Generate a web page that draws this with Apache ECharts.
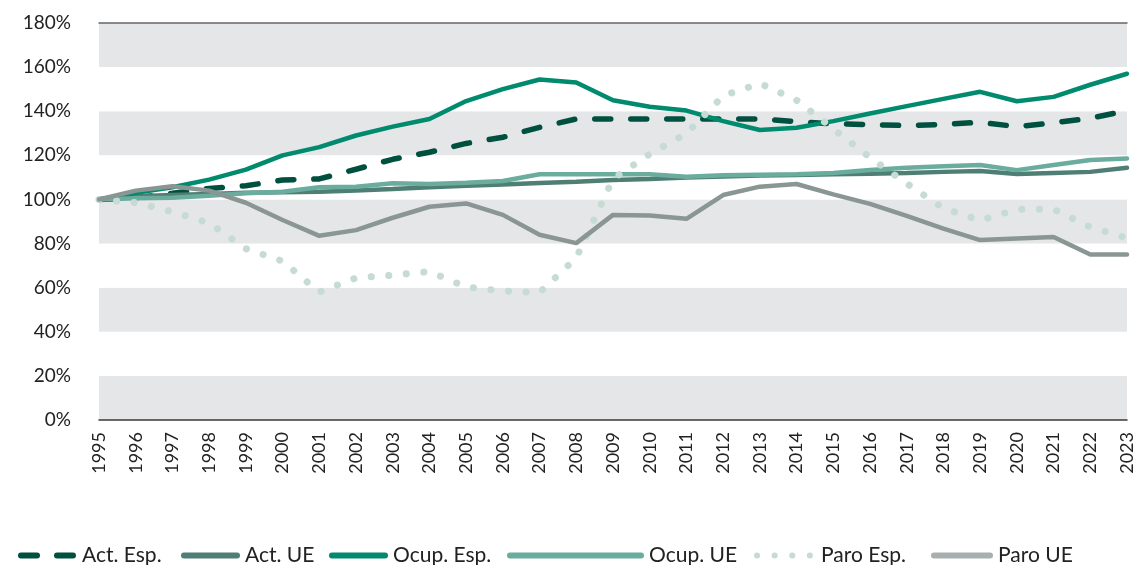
<!DOCTYPE html>
<html>
<head>
<meta charset="utf-8">
<script src="https://cdn.jsdelivr.net/npm/echarts@6/dist/echarts.min.js"></script>
<style>
  html, body { margin: 0; padding: 0; background: #fff; }
  #chart { width: 1141px; height: 565px; }
</style>
</head>
<body>
<div id="chart"></div>
<script>
// years on the x axis
const years = [];
for (let y = 1995; y <= 2023; y++) years.push(String(y));

// index 1995 = 100
const actEsp  = [100, 100.8, 102.8, 105, 106.2, 108.8, 109.3, 113.7, 118.2, 121.4, 125.4, 128.2, 132.7, 136.5, 136.5, 136.5, 136.5, 136.5, 136.5, 135.3, 134.3, 133.9, 133.5, 134, 135, 133, 134.8, 136.8, 140.3];
const actUE   = [100, 101.5, 102, 102.5, 103, 103.3, 103.5, 104, 104.7, 105.5, 106.2, 106.8, 107.4, 108, 108.8, 109.3, 110, 110.4, 110.8, 111.1, 111.4, 111.6, 112, 112.5, 112.9, 111.5, 112, 112.5, 114.4];
const ocupEsp = [100, 103, 105.5, 109, 113.5, 120, 123.7, 129, 133, 136.5, 144.6, 150, 154.4, 153, 145, 142, 140.3, 135.5, 131.5, 132.5, 135.5, 139, 142.3, 145.6, 148.8, 144.5, 146.5, 152, 157];
const ocupUE  = [100, 100.5, 100.8, 101.7, 102.8, 103.5, 105.5, 105.8, 107.3, 107, 107.6, 108.4, 111.4, 111.4, 111.4, 111.4, 110.3, 111, 111.2, 111.4, 112, 113.3, 114.4, 115, 115.6, 113.3, 115.6, 117.9, 118.6];
const paroEsp = [100, 98.6, 94.4, 89.3, 77.7, 72, 58, 64.4, 65.7, 67.3, 60.3, 58.5, 57.8, 73.5, 109.3, 120.6, 129.9, 147, 152.6, 145, 132, 119, 107.2, 96, 90.5, 95.5, 95.5, 87.5, 82.5];
const paroUE  = [100, 104, 106, 104, 98.5, 90.7, 83.5, 86.1, 91.7, 96.7, 98.2, 93, 84, 80.2, 93, 92.7, 91.2, 102, 105.8, 107, 102.3, 98, 92.5, 86.8, 81.6, 82.3, 83, 75, 75];

const names = ['Act. Esp.', 'Act. UE', 'Ocup. Esp.', 'Ocup. UE', 'Paro Esp.', 'Paro UE'];

const yTicks = { min: 0, max: 180, interval: 20 };

const chart = echarts.init(document.getElementById('chart'));

function lineSeries(name, data, color, width, type) {
  return {
    name: name,
    type: 'line',
    data: data,
    symbol: 'none',
    lineStyle: { color: color, width: width, type: type || 'solid', cap: 'round' },
    itemStyle: { color: color }
  };
}

// legend items sit at fixed spots like the original, one legend each
const legendLeft = [13, 176, 324, 502, 749, 926];
const legendIconW = [53, 53, 53, 131, 56, 56];
const legends = names.map(function (n, i) {
  const lg = {
    left: legendLeft[i],
    top: 540,
    itemWidth: legendIconW[i],
    itemHeight: 14,
    itemStyle: { opacity: 0 },
    lineStyle: { width: 6 },
    selectedMode: false,
    textStyle: { fontSize: 21, color: '#222', fontFamily: 'Lato', padding: [0, 0, 0, 3] },
    data: [n]
  };
  if (n === 'Paro UE') lg.lineStyle.color = '#a7b0af';
  return lg;
});

chart.setOption({
  animation: false,
  textStyle: { fontFamily: 'Lato', color: '#222' },
  grid: { left: 99, right: 14, top: 23, bottom: 145 },
  legend: legends,
  xAxis: [
    {
      type: 'category',
      data: years,
      boundaryGap: false,
      axisLine: { lineStyle: { color: '#3a3a3a', width: 1.5 } },
      axisTick: { show: false },
      axisLabel: { rotate: 90, fontSize: 18, color: '#222', margin: 12 }
    },
    {
      type: 'category',
      data: years,
      boundaryGap: false,
      position: 'top',
      axisLine: { lineStyle: { color: '#666', width: 1.5 } },
      axisTick: { show: false },
      axisLabel: { show: false }
    }
  ],
  yAxis: {
    type: 'value',
    min: yTicks.min,
    max: yTicks.max,
    interval: yTicks.interval,
    axisLine: { show: false },
    axisTick: { show: false },
    splitLine: { show: false },
    splitArea: { show: true, areaStyle: { color: ['#e5e6e8', '#ffffff'] } },
    axisLabel: { formatter: '{value}%', fontSize: 19, color: '#222', margin: 28 }
  },
  series: [
    lineSeries(names[0], actEsp, '#00503f', 5.5, [16, 20]),
    lineSeries(names[1], actUE, '#4f7f74', 4.5),
    lineSeries(names[2], ocupEsp, '#008a6e', 4.5),
    lineSeries(names[3], ocupUE, '#6aad9e', 4.5),
    lineSeries(names[4], paroEsp, '#c5dbd4', 7, [0.1, 17.5]),
    lineSeries(names[5], paroUE, '#8a9693', 4.5)
  ]
});
</script>
</body>
</html>
